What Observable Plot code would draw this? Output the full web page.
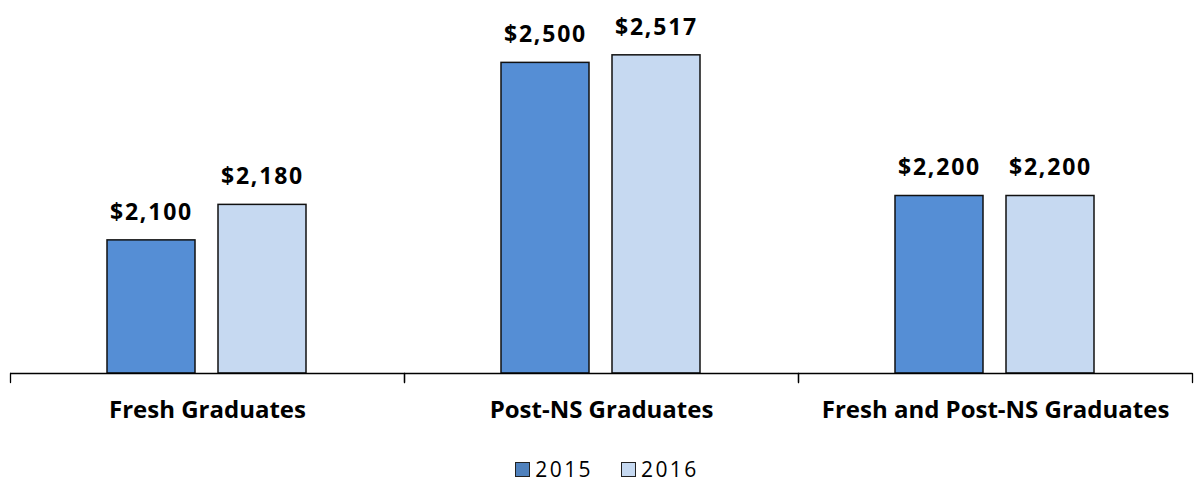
<!DOCTYPE html>
<html>
<head>
<meta charset="utf-8">
<script src="https://cdn.jsdelivr.net/npm/d3@7"></script>
<script src="https://cdn.jsdelivr.net/npm/@observablehq/plot@0.6"></script>
<style>
  html, body { margin: 0; padding: 0; background: #fff; }
  body { width: 1194px; font-family: "Open Sans", sans-serif; }
  #chart svg { display: block; }
  g[aria-label="text"] text { letter-spacing: 1.8px; }
  .legend { display: flex; justify-content: center; align-items: center; margin-top: 17px; padding-left: 20px;
            font-family: "Open Sans", sans-serif; font-size: 21px; letter-spacing: 2.4px; color: #000; line-height: 24px; }
  .legend .item { display: flex; align-items: center; }
  .legend .item + .item { margin-left: 28px; }
  .legend .sw { width: 13px; height: 13px; border: 1.5px solid #222; margin-right: 5px; }
</style>
</head>
<body>
<div id="chart"></div>
<script>
const categories = ["Fresh Graduates", "Post-NS Graduates", "Fresh and Post-NS Graduates"];
const years = ["2015", "2016"];
const values2015 = [2100, 2500, 2200];
const values2016 = [2180, 2517, 2200];
const yDomain = [1800, 2600];
const colors = ["#558ED5", "#C6D9F1"];
const legendColors = ["#4F81BD", "#C6D9F1"];

const data = categories.flatMap((c, i) => [
  {category: c, year: years[0], value: values2015[i]},
  {category: c, year: years[1], value: values2016[i]}
]);

const fmt = d3.format(",");

const chart = Plot.plot({
  width: 1194,
  height: 440,
  marginLeft: 10,
  marginRight: 2,
  marginTop: 18,
  marginBottom: 67,
  style: {fontFamily: "Open Sans, sans-serif", background: "#fff", color: "#000"},
  fx: {domain: categories, paddingInner: 0, paddingOuter: 0, label: null},
  x: {domain: years, paddingInner: 0.205, paddingOuter: 0.862, axis: null},
  y: {domain: yDomain, axis: null},
  color: {domain: years, range: colors},
  marks: [
    Plot.barY(data, {fx: "category", x: "year", y1: yDomain[0], y2: "value", fill: "year", stroke: "#111", strokeWidth: 1.5}),
    Plot.text(data, {fx: "category", x: "year", y: "value", text: d => "$" + fmt(d.value), dy: -28,
      fontSize: 23, fontWeight: "bold", fill: "#000"}),
    Plot.ruleY([yDomain[0]], {stroke: "#000", strokeWidth: 1.3}),
    Plot.vector([0], {frameAnchor: "bottom-left", length: 9, rotate: 180, anchor: "start", r: 0, stroke: "#000", strokeWidth: 1.3}),
    Plot.vector([0], {frameAnchor: "bottom-right", length: 9, rotate: 180, anchor: "start", r: 0, stroke: "#000", strokeWidth: 1.3}),
    Plot.axisFx({anchor: "bottom", tickSize: 0, tickPadding: 27, fontSize: 24, fontWeight: "bold", label: null})
  ]
});

document.getElementById("chart").appendChild(chart);

const legend = document.createElement("div");
legend.className = "legend";
years.forEach((y, i) => {
  const item = document.createElement("div");
  item.className = "item";
  const sw = document.createElement("span");
  sw.className = "sw";
  sw.style.background = legendColors[i];
  const label = document.createElement("span");
  label.textContent = y;
  item.appendChild(sw);
  item.appendChild(label);
  legend.appendChild(item);
});
document.body.appendChild(legend);
</script>
</body>
</html>
